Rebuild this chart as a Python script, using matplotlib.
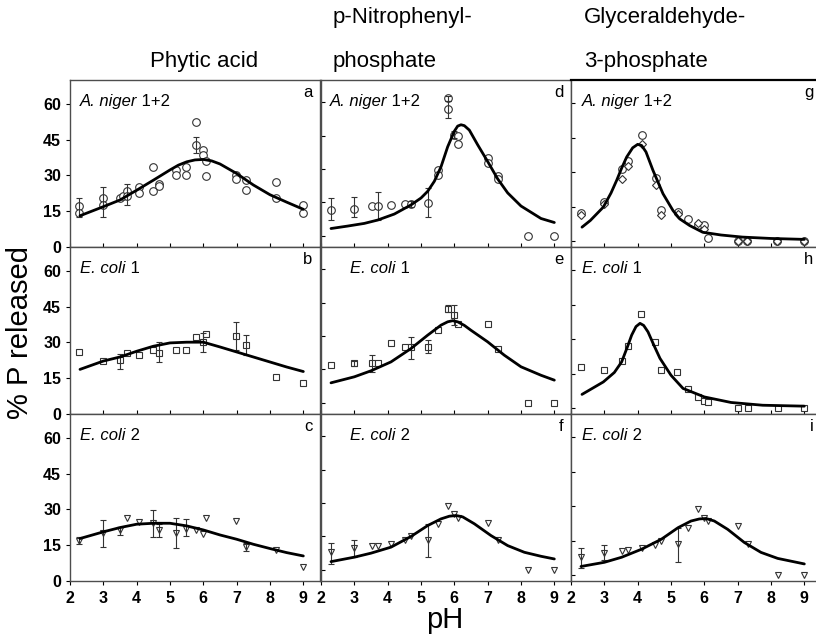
"""Percent P released vs pH for three substrates and three phytases."""
import matplotlib
matplotlib.use("Agg")
import numpy as np
import matplotlib.pyplot as plt

plt.rcParams['font.family'] = ['Liberation Sans', 'DejaVu Sans']

# --- Phytic acid -----------------------------------------------------------
a_ph = [2.28, 2.28, 2.98, 2.98, 3.5, 3.6, 3.7, 3.7, 4.08, 4.08, 4.5, 4.5,
        4.67, 4.67, 5.19, 5.19, 5.49, 5.49, 5.79, 5.79, 5.99, 5.99, 6.09,
        6.09, 6.99, 6.99, 7.29, 7.29, 8.19, 8.19, 8.99, 8.99]
a_val = [17.2, 14.1, 20.4, 17.6, 20.6, 21.3, 23.6, 21.3, 25.2, 22.7, 33.6,
         23.3, 26.6, 25.5, 32.2, 30.1, 33.6, 30.1, 52.4, 42.7, 40.6, 38.5,
         36.1, 29.7, 30.1, 28.7, 28.0, 24.1, 27.3, 20.4, 17.8, 14.4]
a_err_ph = [2.28, 2.98, 3.7, 5.79]
a_err_lo = [12.7, 12.7, 17.6, 39.2]
a_err_hi = [20.4, 25.0, 26.6, 46.2]
a_fit_ph = [2.3, 3.0, 3.5, 4.0, 4.5, 5.0, 5.25, 5.5, 5.75, 6.0, 6.25, 6.5,
            7.0, 7.5, 8.0, 8.5, 9.0]
a_fit = [13.1, 16.9, 19.7, 23.8, 28.0, 32.3, 34.3, 35.7, 36.5, 36.7, 36.1,
         34.8, 30.8, 26.0, 21.9, 18.8, 15.8]

b_ph = [2.28, 2.98, 3.5, 3.7, 4.08, 4.5, 4.67, 5.19, 5.49, 5.79, 5.99, 6.09,
        6.99, 7.29, 8.19, 8.99]
b_val = [26.0, 22.2, 22.5, 25.6, 24.9, 27.0, 25.6, 27.0, 26.7, 32.1, 30.2,
         33.5, 32.7, 28.8, 15.5, 13.1]
b_err_ph = [3.5, 4.67, 5.99, 6.99, 7.29]
b_err_lo = [19.0, 21.8, 26.0, 26.7, 24.6]
b_err_hi = [25.3, 30.2, 33.8, 38.7, 33.3]
b_fit_ph = [2.3, 3.0, 3.5, 4.0, 4.5, 5.0, 5.5, 6.0, 6.5, 7.0, 7.5, 8.0, 8.5,
            9.0]
b_fit = [18.7, 22.2, 23.9, 26.3, 28.4, 29.8, 30.1, 30.1, 28.1, 26.0, 23.9,
         21.8, 19.7, 17.8]

c_ph = [2.28, 2.98, 3.5, 3.7, 4.08, 4.5, 4.67, 5.19, 5.49, 5.79, 5.99, 6.09,
        6.99, 7.29, 8.19, 8.99]
c_val = [16.8, 20.3, 21.4, 26.3, 24.9, 24.5, 21.4, 20.3, 21.7, 21.4, 19.6,
         26.3, 25.2, 14.3, 12.9, 5.9]
c_err_ph = [2.28, 2.98, 3.5, 4.5, 4.67, 5.19, 5.49, 7.29]
c_err_lo = [15.3, 14.4, 19.3, 18.5, 18.5, 14.0, 18.7, 12.4]
c_err_hi = [18.3, 25.6, 22.8, 29.7, 23.8, 26.2, 26.0, 15.9]
c_fit_ph = [2.3, 3.0, 3.5, 4.0, 4.5, 5.0, 5.5, 6.0, 6.5, 7.0, 7.5, 8.0, 8.5,
            9.0]
c_fit = [17.8, 20.6, 22.4, 23.8, 24.2, 24.2, 23.1, 21.4, 19.3, 17.5, 15.4,
         13.6, 11.9, 10.5]

# --- p-Nitrophenylphosphate ------------------------------------------------
d_ph = [2.3, 3.0, 3.52, 3.71, 4.11, 4.51, 4.71, 5.21, 5.51, 5.51, 5.81, 5.81,
        6.0, 6.1, 6.1, 7.0, 7.0, 7.3, 7.3, 8.2, 9.0]
d_val = [11.6, 11.9, 13.4, 13.4, 13.8, 14.2, 14.2, 14.6, 29.6, 27.4, 62.0,
         57.0, 45.4, 44.7, 41.4, 34.9, 32.9, 26.9, 25.4, 0.0, 0.0]
d_err_ph = [2.3, 3.0, 3.71, 4.71, 5.21, 5.81, 5.81, 6.0]
d_err_lo = [7.1, 8.6, 7.1, 13.0, 8.6, 60.4, 53.0, 44.0]
d_err_hi = [16.9, 17.6, 19.8, 15.5, 21.4, 63.0, 60.4, 47.0]
d_fit_ph = [2.3, 2.8, 3.3, 3.7, 4.2, 4.7, 5.0, 5.2, 5.4, 5.6, 5.8, 6.0, 6.1,
            6.2, 6.3, 6.45, 6.7, 7.0, 7.3, 7.6, 8.0, 8.6, 9.0]
d_fit = [3.3, 4.4, 5.6, 7.1, 9.8, 13.9, 17.0, 20.0, 24.5, 31.0, 40.0, 47.0,
         49.3, 49.9, 49.5, 47.5, 40.9, 33.4, 25.6, 19.3, 13.4, 7.8, 6.0]

e_ph = [2.3, 3.0, 3.52, 3.71, 4.09, 4.51, 4.71, 5.21, 5.51, 5.81, 6.0, 6.1,
        7.0, 7.3, 8.2, 9.0]
e_val = [16.9, 17.7, 17.7, 17.7, 26.7, 25.1, 24.9, 25.1, 32.6, 42.1, 39.4,
         35.2, 35.6, 24.4, 0.0, 0.0]
e_err_ph = [3.0, 3.52, 4.71, 5.21, 5.81, 6.0]
e_err_lo = [16.5, 13.9, 19.9, 22.2, 40.9, 34.9]
e_err_hi = [18.6, 21.4, 29.6, 28.2, 43.9, 43.9]
e_fit_ph = [2.3, 3.0, 3.5, 4.1, 4.7, 5.2, 5.6, 5.8, 5.95, 6.1, 6.3, 6.5, 7.0,
            7.5, 8.0, 8.6, 9.0]
e_fit = [9.0, 11.7, 14.4, 18.4, 24.4, 30.4, 34.9, 36.4, 36.9, 36.4, 34.8,
         32.6, 27.4, 21.4, 16.2, 12.4, 10.2]

f_ph = [2.3, 3.0, 3.52, 3.71, 4.11, 4.51, 4.71, 5.21, 5.51, 5.81, 6.0, 6.1,
        7.0, 7.3, 8.2, 9.0]
f_val = [7.9, 9.9, 10.6, 10.9, 11.7, 13.5, 15.0, 13.5, 20.4, 28.6, 24.9, 23.4,
         21.1, 13.5, 0.0, 0.0]
f_err_ph = [2.3, 3.0, 5.21]
f_err_lo = [2.7, 5.7, 6.0]
f_err_hi = [12.0, 13.2, 20.7]
f_fit_ph = [2.3, 3.0, 3.5, 4.1, 4.7, 5.2, 5.6, 5.85, 6.05, 6.25, 6.6, 7.1,
            7.6, 8.1, 8.6, 9.0]
f_fit = [3.7, 5.7, 7.5, 10.2, 15.0, 19.9, 22.9, 24.1, 24.4, 23.8, 20.7, 15.4,
         10.9, 7.9, 6.1, 4.9]

# --- Glyceraldehyde-3-phosphate --------------------------------------------
g_ph = [2.3, 3.0, 3.52, 3.72, 4.12, 4.54, 4.71, 5.21, 5.5, 5.8, 6.0, 6.1,
        7.0, 7.29, 8.19, 9.0]
g_val = [12.3, 17.0, 31.5, 34.8, 46.0, 27.6, 13.8, 12.7, 9.8, 7.2, 7.2, 1.4,
         0.0, 0.0, 0.0, 0.0]
g_diam_ph = [2.3, 3.0, 3.52, 3.72, 4.12, 4.54, 4.71, 5.21, 5.8, 6.0, 7.0,
             7.29, 8.19, 9.0]
g_diam_val = [11.3, 16.1, 27.2, 32.7, 42.1, 24.3, 11.3, 11.7, 8.0, 5.5, 0.0,
              0.0, 0.0, 0.0]
g_fit_ph = [2.33, 2.58, 2.97, 3.2, 3.37, 3.52, 3.67, 3.85, 4.0, 4.12, 4.25,
            4.46, 4.76, 5.06, 5.26, 5.56, 5.95, 6.5, 7.14, 8.0, 9.0]
g_fit = [6.2, 9.1, 14.9, 21.0, 26.5, 31.8, 36.6, 40.6, 42.1, 41.6, 38.8,
         30.8, 20.7, 13.4, 9.8, 6.9, 4.0, 2.8, 1.9, 1.3, 0.9]

h_ph = [2.3, 3.0, 3.52, 3.72, 4.1, 4.51, 4.69, 5.19, 5.5, 5.8, 6.0, 6.1,
        7.0, 7.3, 8.2, 9.0]
h_val = [17.8, 16.6, 20.7, 27.2, 40.8, 28.6, 16.6, 15.9, 8.4, 5.0, 3.2, 2.6,
         0.0, 0.0, 0.0, 0.0]
h_fit_ph = [2.33, 2.97, 3.3, 3.52, 3.7, 3.82, 3.95, 4.07, 4.18, 4.31, 4.5,
            4.67, 5.0, 5.36, 6.0, 6.8, 7.75, 9.0]
h_fit = [6.1, 11.5, 15.6, 20.2, 27.0, 31.8, 35.5, 36.9, 36.0, 33.2, 27.0,
         21.7, 14.4, 8.7, 5.0, 2.6, 1.4, 1.0]

i_ph = [2.3, 3.0, 3.52, 3.72, 4.12, 4.51, 4.69, 5.21, 5.5, 5.8, 6.0, 6.1,
        7.0, 7.3, 8.2, 9.0]
i_val = [7.9, 9.7, 10.4, 11.1, 11.7, 13.1, 15.0, 13.6, 20.7, 28.6, 25.0, 23.6,
         21.4, 13.6, 0.0, 0.0]
i_err_ph = [2.3, 3.0, 5.21]
i_err_lo = [3.1, 6.7, 6.0]
i_err_hi = [12.1, 13.1, 20.7]
i_fit_ph = [2.3, 3.0, 3.52, 4.12, 4.71, 5.21, 5.6, 5.85, 6.05, 6.3, 6.7, 7.2,
            7.7, 8.2, 9.0]
i_fit = [3.9, 5.7, 7.9, 11.4, 15.7, 20.7, 23.6, 24.5, 24.7, 23.6, 20.0, 14.3,
         10.0, 7.4, 5.0]

col_titles = [["Phytic acid"], ["p-Nitrophenyl-", "phosphate"],
              ["Glyceraldehyde-", "3-phosphate"]]
species = [("A. niger", " 1+2"), ("E. coli", " 1"), ("E. coli", " 2")]
letters = ["a", "b", "c", "d", "e", "f", "g", "h", "i"]
y_ticks = [0, 15, 30, 45, 60]
x_ticks = [2, 3, 4, 5, 6, 7, 8, 9]

panels = [
    (a_ph, a_val, "o", (a_err_ph, a_err_lo, a_err_hi), a_fit_ph, a_fit),
    (b_ph, b_val, "s", (b_err_ph, b_err_lo, b_err_hi), b_fit_ph, b_fit),
    (c_ph, c_val, "v", (c_err_ph, c_err_lo, c_err_hi), c_fit_ph, c_fit),
    (d_ph, d_val, "o", (d_err_ph, d_err_lo, d_err_hi), d_fit_ph, d_fit),
    (e_ph, e_val, "s", (e_err_ph, e_err_lo, e_err_hi), e_fit_ph, e_fit),
    (f_ph, f_val, "v", (f_err_ph, f_err_lo, f_err_hi), f_fit_ph, f_fit),
    (g_ph, g_val, "o", None, g_fit_ph, g_fit),
    (h_ph, h_val, "s", None, h_fit_ph, h_fit),
    (i_ph, i_val, "v", (i_err_ph, i_err_lo, i_err_hi), i_fit_ph, i_fit),
]

W, H = 816, 638
fig = plt.figure(figsize=(W / 100, H / 100), dpi=100)

col_left = [70, 321, 571]
row_top = [80, 247, 414]
ax_w, ax_h = 250, 167
col_ylim = [(0, 70), (-5, 70), (-2.4, 70)]
label_x = [[0.04, 0.04, 0.04], [0.036, 0.116, 0.116], [0.044, 0.044, 0.044]]
msize = {"o": 5.5, "s": 5, "v": 5}

for col in range(3):
    for row in range(3):
        idx = col * 3 + row
        ph, val, mk, err, fit_ph, fit = panels[idx]
        rect = [col_left[col] / W, 1 - (row_top[row] + ax_h) / H,
                ax_w / W, ax_h / H]
        ax = fig.add_axes(rect)

        ax.plot(ph, val, mk, ms=msize[mk], mfc="white", mec="0.2", mew=0.8,
                zorder=2)
        if idx == 6:
            ax.plot(g_diam_ph, g_diam_val, "D", ms=4, mfc="white", mec="0.2",
                    mew=0.8, zorder=2)
        if err is not None:
            ex, lo, hi = (np.array(v) for v in err)
            ax.errorbar(ex, (lo + hi) / 2, yerr=(hi - lo) / 2, fmt="none",
                        ecolor="0.2", elinewidth=0.8, capsize=2.5,
                        capthick=0.8, zorder=2)
        ax.plot(fit_ph, fit, color="black", lw=2, zorder=3,
                solid_joinstyle="round", solid_capstyle="round")

        ax.set_xlim(2, 9.5)
        ax.set_ylim(*col_ylim[col])
        ax.set_xticks(x_ticks)
        ax.set_yticks(y_ticks)
        ax.tick_params(axis="y", direction="out" if col == 0 else "in",
                       length=3, width=0.8, labelleft=col == 0, labelsize=11.5)
        ax.tick_params(axis="x", direction="out" if row == 2 else "in",
                       length=3, width=0.8, labelbottom=row == 2,
                       labelsize=11.5, pad=4)
        for lab in ax.get_xticklabels() + ax.get_yticklabels():
            lab.set_fontweight("bold")
        for sp in ax.spines.values():
            sp.set_color("0.3")
            sp.set_linewidth(1.0)
        if col == 2 and row == 0:
            ax.spines["top"].set_color("black")
            ax.spines["top"].set_linewidth(1.6)

        name, rest = species[row]
        t = ax.text(label_x[col][row], 0.845, name, transform=ax.transAxes,
                    fontsize=12, style="italic", ha="left", va="baseline")
        ax.annotate(rest, xy=(1, 0), xycoords=t, fontsize=12,
                    ha="left", va="bottom")
        ax.text(0.97, 0.9, letters[idx], transform=ax.transAxes, fontsize=12,
                ha="right", va="baseline")

# column headings
title_x = [150, 333, 584]
for col, lines in enumerate(col_titles):
    ys = [62] if len(lines) == 1 else [17, 62]
    for line, y in zip(lines, ys):
        fig.text(title_x[col] / W, 1 - y / H, line, fontsize=16,
                 ha="left", va="center")

fig.text(20 / W, 1 - 332 / H, "% P released", rotation=90, fontsize=21,
         ha="center", va="center")
fig.text(445 / W, 1 - 620 / H, "pH", fontsize=21, ha="center", va="center")

fig.savefig("out.png", dpi=100)
